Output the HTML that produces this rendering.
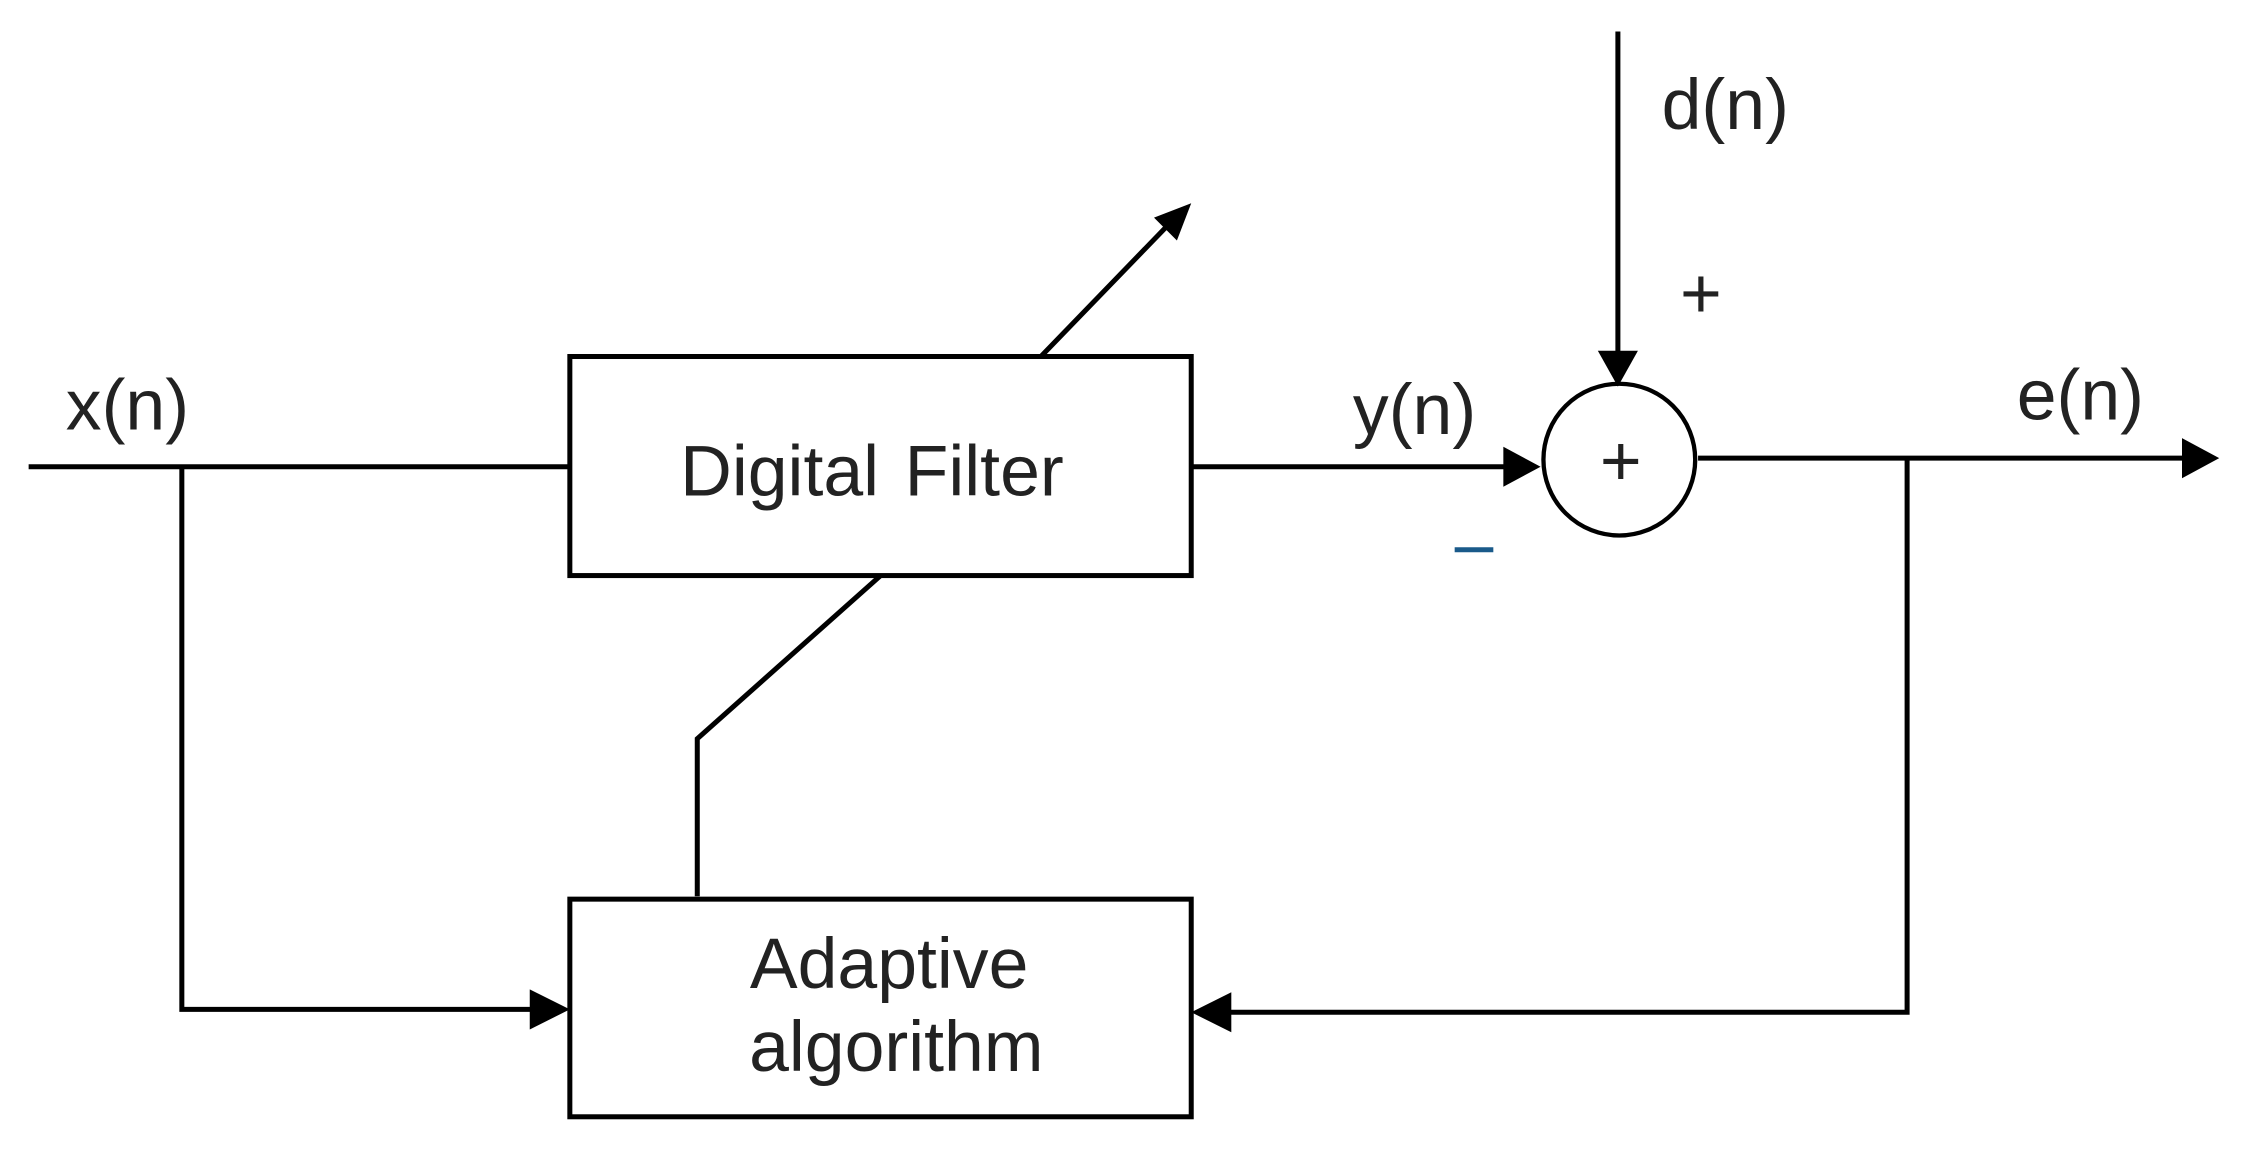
<!DOCTYPE html>
<html><head><meta charset="utf-8"><style>
html,body{margin:0;padding:0;background:#fff;}
svg{display:block;}
text{font-family:"Liberation Sans",Arial,sans-serif;fill:#222;}
</style></head><body>
<svg width="2245" height="1152" viewBox="0 0 1568 804.6" preserveAspectRatio="none">
<g stroke="#000" stroke-width="3.5" fill="none">
<line x1="20" y1="326" x2="398" y2="326"/>
<rect x="398" y="249" width="434" height="153"/>
<rect x="398" y="628" width="434" height="152"/>
<line x1="832" y1="326" x2="1052" y2="326"/>
<circle cx="1131" cy="321" r="53" stroke-width="3"/>
<line x1="1130" y1="22" x2="1130" y2="248"/>
<line x1="1186" y1="320" x2="1525" y2="320"/>
<polyline points="1332,320 1332,707 858,707"/>
<polyline points="127,326 127,705 372,705"/>
<polyline points="487,626 487,516 615,402"/>
<line x1="727" y1="249" x2="815" y2="158"/>
</g>
<g fill="#000">
<polygon points="1076,326 1050,312 1050,340"/>
<polygon points="1130,270 1116,245 1144,245"/>
<polygon points="1550,320 1524,306 1524,334"/>
<polygon points="832,707 860,693 860,721"/>
<polygon points="398,705 370,691 370,719"/>
<polygon points="832,142 806,152 822,168"/>
</g>
<text x="89" y="300" font-size="50" text-anchor="middle">x(n)</text>
<text x="609" y="346" font-size="50" text-anchor="middle" word-spacing="4">Digital Filter</text>
<text x="988" y="303" font-size="50" text-anchor="middle">y(n)</text>
<text x="1205" y="90" font-size="50" text-anchor="middle">d(n)</text>
<text x="1188" y="222" font-size="50" text-anchor="middle">+</text>
<text x="1132" y="339" font-size="50" text-anchor="middle">+</text>
<text x="1453" y="293" font-size="50" text-anchor="middle">e(n)</text>
<line x1="1016" y1="384" x2="1043" y2="384" stroke="#1a5a8a" stroke-width="3.5"/>
<text x="621" y="690" font-size="50" text-anchor="middle">Adaptive</text>
<text x="626" y="748" font-size="50" text-anchor="middle">algorithm</text>
</svg>
</body></html>
